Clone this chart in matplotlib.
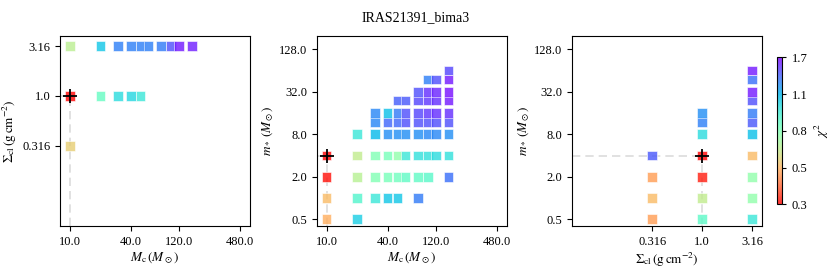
import matplotlib
matplotlib.use('Agg')
import matplotlib.pyplot as plt
import matplotlib.colors as mcolors
import matplotlib.ticker as mticker
import numpy as np

plt.rcParams['font.family'] = 'serif'
plt.rcParams['font.serif'] = ['Liberation Serif', 'DejaVu Serif']
plt.rcParams['mathtext.fontset'] = 'stix'

# mejor ajuste
best_mc = 10.0
best_sigma = 1.0
best_ms = 4.0

# panel izquierdo: M_c vs Sigma_cl
left_mc = [10, 20, 30, 40, 50, 60, 80, 100, 120, 160,
           10, 20, 30, 40, 50,
           10]
left_sigma = [3.16] * 10 + [1.0] * 5 + [0.316]
left_chi2 = [0.63, 1.08, 1.30, 1.30, 1.30, 1.30, 1.32, 1.45, 1.62, 1.60,
             0.34, 0.82, 1.00, 1.02, 0.95,
             0.55]

# panel central: M_c vs m_*
mid_mc = [10, 10, 10, 10,
          20, 20, 20, 20, 20,
          30, 30, 30, 30, 30, 30,
          40, 40, 40, 40, 40, 40,
          50, 50, 50, 50, 50, 50, 50,
          60, 60, 60, 60, 60, 60,
          80, 80, 80, 80, 80, 80, 80, 80,
          100, 100, 100, 100, 100, 100, 100, 100,
          120, 120, 120, 120, 120, 120, 120,
          160, 160, 160, 160, 160, 160, 160, 160, 160]
mid_ms = [0.5, 1, 2, 4,
          0.5, 1, 2, 4, 8,
          1, 2, 4, 8, 12, 16,
          1, 2, 4, 8, 12, 16,
          1, 2, 4, 8, 12, 16, 24,
          2, 4, 8, 12, 16, 24,
          1, 2, 4, 8, 12, 16, 24, 32,
          2, 4, 8, 12, 16, 24, 32, 48,
          4, 8, 12, 16, 24, 32, 48,
          2, 4, 8, 12, 16, 24, 32, 48, 64]
mid_chi2 = [0.50, 0.52, 0.35, 0.34,
            1.05, 0.88, 0.64, 0.62, 0.95,
            0.95, 0.76, 0.76, 1.12, 1.28, 1.28,
            1.08, 0.78, 0.78, 1.25, 1.38, 1.10,
            1.08, 0.80, 0.72, 1.25, 1.38, 1.32, 1.40,
            0.84, 0.95, 1.25, 1.45, 1.45, 1.42,
            1.32, 0.84, 0.98, 1.25, 1.45, 1.48, 1.48, 1.45,
            0.86, 0.98, 1.28, 1.45, 1.52, 1.52, 1.55, 1.30,
            1.00, 1.28, 1.45, 1.55, 1.55, 1.58, 1.45,
            1.35, 0.98, 1.25, 1.45, 1.55, 1.62, 1.65, 1.62, 1.48]

# panel derecho: Sigma_cl vs m_*
right_sigma = [0.316] * 4 + [1.0] * 7 + [3.16] * 11
right_ms = [0.5, 1, 2, 4,
            0.5, 1, 2, 4, 8, 12, 16,
            0.5, 1, 2, 4, 8, 12, 16, 24, 32, 48, 64]
right_chi2 = [0.48, 0.52, 0.48, 1.42,
              0.85, 0.62, 0.36, 0.34, 1.00, 1.30, 1.25,
              0.95, 0.72, 0.72, 0.52, 1.10, 1.42, 1.32, 1.45, 1.62, 1.35, 1.62]

mc_ticks = [10, 40, 120, 480]
ms_ticks = [0.5, 2, 8, 32, 128]
sigma_ticks = [0.316, 1.0, 3.16]

chi2_min, chi2_max = 0.34, 1.70
norm = mcolors.LogNorm(vmin=chi2_min, vmax=chi2_max)
cmap = plt.get_cmap('rainbow_r')

fig = plt.figure(figsize=(8.31, 2.71), dpi=100)
ax1 = fig.add_axes([0.0722, 0.166, 0.2286, 0.702])
ax2 = fig.add_axes([0.3811, 0.166, 0.2286, 0.702])
ax3 = fig.add_axes([0.6887, 0.166, 0.2286, 0.702])
cax = fig.add_axes([0.9354, 0.246, 0.0062, 0.5425])

xlim_mc = (8, 600)
ylim_ms = (0.4, 200)
lim_sigma = (0.05, 4.0)

def fijar_ejes(ax, xt, yt, xl, yl):
    ax.set_xscale('log')
    ax.set_yscale('log')
    ax.set_xlim(*xl)
    ax.set_ylim(*yl)
    ax.xaxis.set_major_locator(mticker.FixedLocator(xt))
    ax.yaxis.set_major_locator(mticker.FixedLocator(yt))
    ax.xaxis.set_major_formatter(mticker.FixedFormatter([str(float(t)) for t in xt]))
    ax.yaxis.set_major_formatter(mticker.FixedFormatter([str(float(t)) for t in yt]))
    ax.xaxis.set_minor_locator(mticker.NullLocator())
    ax.yaxis.set_minor_locator(mticker.NullLocator())
    ax.tick_params(labelsize=9, length=3.5, width=0.8)
    for s in ax.spines.values():
        s.set_linewidth(0.8)

def cuadros(ax, x, y, c):
    ax.scatter(x, y, c=c, cmap=cmap, norm=norm, marker='s', s=48,
               alpha=0.8, edgecolors='white', linewidths=0.5, zorder=3)

dash = dict(color='#dcdcdc', lw=1.2, ls=(0, (5, 3)), zorder=2)

# izquierdo
fijar_ejes(ax1, mc_ticks, sigma_ticks, xlim_mc, lim_sigma)
ax1.plot([best_mc, best_mc], [lim_sigma[0], best_sigma], **dash)
ax1.plot([xlim_mc[0], best_mc], [best_sigma, best_sigma], **dash)
cuadros(ax1, left_mc, left_sigma, left_chi2)
ax1.plot(best_mc, best_sigma, '+', color='black', ms=10, mew=1.3, zorder=5)
ax1.set_xlabel(r'$M_{\rm c}\,(M_\odot)$', fontsize=9.5, labelpad=2)
ax1.set_ylabel(r'$\Sigma_{\rm cl}\,({\rm g\,cm^{-2}})$', fontsize=9.5, labelpad=2)

# central
fijar_ejes(ax2, mc_ticks, ms_ticks, xlim_mc, ylim_ms)
ax2.plot([best_mc, best_mc], [ylim_ms[0], best_ms], **dash)
ax2.plot([xlim_mc[0], best_mc], [best_ms, best_ms], **dash)
cuadros(ax2, mid_mc, mid_ms, mid_chi2)
ax2.plot(best_mc, best_ms, '+', color='black', ms=10, mew=1.3, zorder=5)
ax2.set_xlabel(r'$M_{\rm c}\,(M_\odot)$', fontsize=9.5, labelpad=2)
ax2.set_ylabel(r'$m_*\,(M_\odot)$', fontsize=9.5, labelpad=2)

# derecho
fijar_ejes(ax3, sigma_ticks, ms_ticks, lim_sigma, ylim_ms)
ax3.plot([best_sigma, best_sigma], [ylim_ms[0], best_ms], **dash)
ax3.plot([lim_sigma[0], best_sigma], [best_ms, best_ms], **dash)
cuadros(ax3, right_sigma, right_ms, right_chi2)
ax3.plot(best_sigma, best_ms, '+', color='black', ms=10, mew=1.3, zorder=5)
ax3.set_xlabel(r'$\Sigma_{\rm cl}\,({\rm g\,cm^{-2}})$', fontsize=9.5, labelpad=2)
ax3.set_ylabel(r'$m_*\,(M_\odot)$', fontsize=9.5, labelpad=2)

# barra de color
sm = plt.cm.ScalarMappable(norm=norm, cmap=cmap)
cb = fig.colorbar(sm, cax=cax, alpha=0.8)
cb_ticks = np.geomspace(chi2_min, chi2_max, 5)
cb.set_ticks(cb_ticks)
cb.set_ticklabels(['%.1f' % t for t in cb_ticks])
cb.ax.yaxis.set_minor_locator(mticker.NullLocator())
cb.ax.tick_params(labelsize=9, length=3, width=0.8)
cb.outline.set_linewidth(0.8)
cb.set_label(r'$\chi^2$', fontsize=9.5, labelpad=4)

fig.suptitle('IRAS21391_bima3', fontsize=10, y=0.96)

fig.savefig('out.png', dpi=100)
